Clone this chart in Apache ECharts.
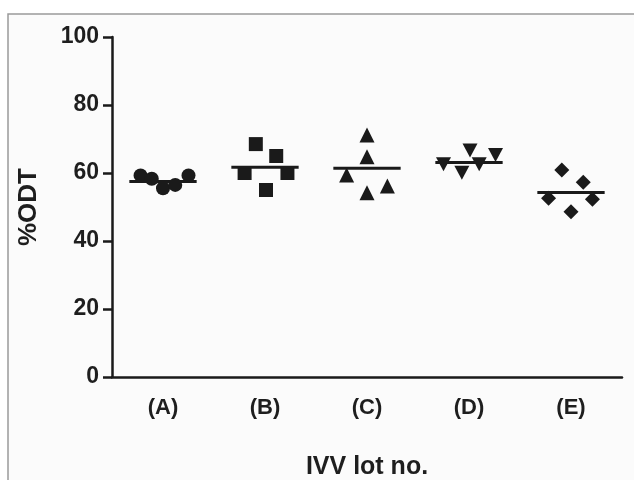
<!DOCTYPE html>
<html><head><meta charset="utf-8">
<script src="https://cdn.jsdelivr.net/npm/echarts@6/dist/echarts.min.js"></script>
<style>html,body{margin:0;padding:0;background:#fff}#c{width:634px;height:480px}</style>
</head><body><div id="c"></div>
<script>
var categories = ['(A)', '(B)', '(C)', '(D)', '(E)'];
var valuesA = [59.3, 58.3, 55.5, 56.5, 59.3];
var valuesB = [68.5, 65.0, 60.0, 60.0, 55.0];
var valuesC = [71.2, 64.8, 59.4, 56.2, 54.2];
var valuesD = [62.6, 66.6, 60.1, 62.6, 65.3];
var valuesE = [60.9, 57.3, 52.6, 52.3, 48.6];
var jitterA = [-0.22, -0.11, 0.0, 0.12, 0.25];
var jitterB = [-0.09, 0.11, -0.2, 0.22, 0.01];
var jitterC = [0.0, 0.0, -0.2, 0.2, 0.0];
var jitterD = [-0.25, 0.01, -0.07, 0.1, 0.26];
var jitterE = [-0.09, 0.12, -0.22, 0.21, 0.0];
var means = [57.5, 61.7, 61.4, 63.1, 54.3];
var yTicks = [0, 20, 40, 60, 80, 100];

var groups = [
  {v: valuesA, j: jitterA, sym: 'circle', size: 14},
  {v: valuesB, j: jitterB, sym: 'rect', size: 14},
  {v: valuesC, j: jitterC, sym: 'triangle', size: 15},
  {v: valuesD, j: jitterD, sym: 'path://M0,0 L10,0 L5,9 Z', size: [15, 14]},
  {v: valuesE, j: jitterE, sym: 'diamond', size: 15}
];
var ink = '#1a1a1a';
var font = '"Liberation Sans", Arial, sans-serif';

var series = groups.map(function (g, i) {
  return {
    type: 'scatter', xAxisIndex: 1, yAxisIndex: 0,
    symbol: g.sym, symbolSize: g.size,
    itemStyle: {color: ink, opacity: 1},
    data: g.v.map(function (v, k) { return [i + g.j[k], v]; }),
    z: 3
  };
});
series.push({
  type: 'custom', xAxisIndex: 1, yAxisIndex: 0, z: 4,
  data: means.map(function (m, i) { return [i, m]; }),
  renderItem: function (params, api) {
    var a = api.coord([api.value(0) - 0.33, api.value(1)]);
    var b = api.coord([api.value(0) + 0.33, api.value(1)]);
    return {type: 'line', shape: {x1: a[0], y1: a[1], x2: b[0], y2: b[1]},
      style: {stroke: ink, lineWidth: 3}};
  }
});

var chart = echarts.init(document.getElementById('c'));
chart.setOption({
  backgroundColor: '#fff',
  animation: false,
  graphic: [{type: 'rect', z: -10, silent: true,
    shape: {x: 8, y: 14, width: 640, height: 480},
    style: {fill: '#fbfbfb', stroke: '#9a9a9a', lineWidth: 1.5}}],
  grid: {left: 112, right: 12, top: 37, bottom: 103, containLabel: false, outerBoundsMode: 'none'},
  xAxis: [{
    type: 'category', data: categories, boundaryGap: true,
    axisLine: {onZero: false, lineStyle: {color: ink, width: 2.5}},
    axisTick: {alignWithLabel: true, length: 9, lineStyle: {color: ink, width: 2.5}},
    axisLabel: {color: '#1e1e1e', fontSize: 22, fontWeight: 'bold', fontFamily: font, margin: 20},
    name: 'IVV lot no.', nameLocation: 'middle', nameGap: 78,
    nameTextStyle: {color: '#1e1e1e', fontSize: 25, fontWeight: 'bold', fontFamily: font}
  }, {
    type: 'value', min: -0.5, max: 4.5, show: false
  }],
  yAxis: [{
    type: 'value', min: 0, max: 100, interval: 20,
    axisLine: {show: true, onZero: false, lineStyle: {color: ink, width: 2.5}},
    axisTick: {show: true, length: 9, lineStyle: {color: ink, width: 2.5}},
    splitLine: {show: false},
    axisLabel: {color: '#1e1e1e', fontSize: 23, fontWeight: 'bold', fontFamily: font, margin: 13,
      formatter: function (v) { return yTicks.indexOf(v) >= 0 ? String(v) : ''; }},
    name: '%ODT', nameLocation: 'middle', nameGap: 70,
    nameTextStyle: {color: '#1e1e1e', fontSize: 26, fontWeight: 'bold', fontFamily: font}
  }],
  series: series
});
</script></body></html>
